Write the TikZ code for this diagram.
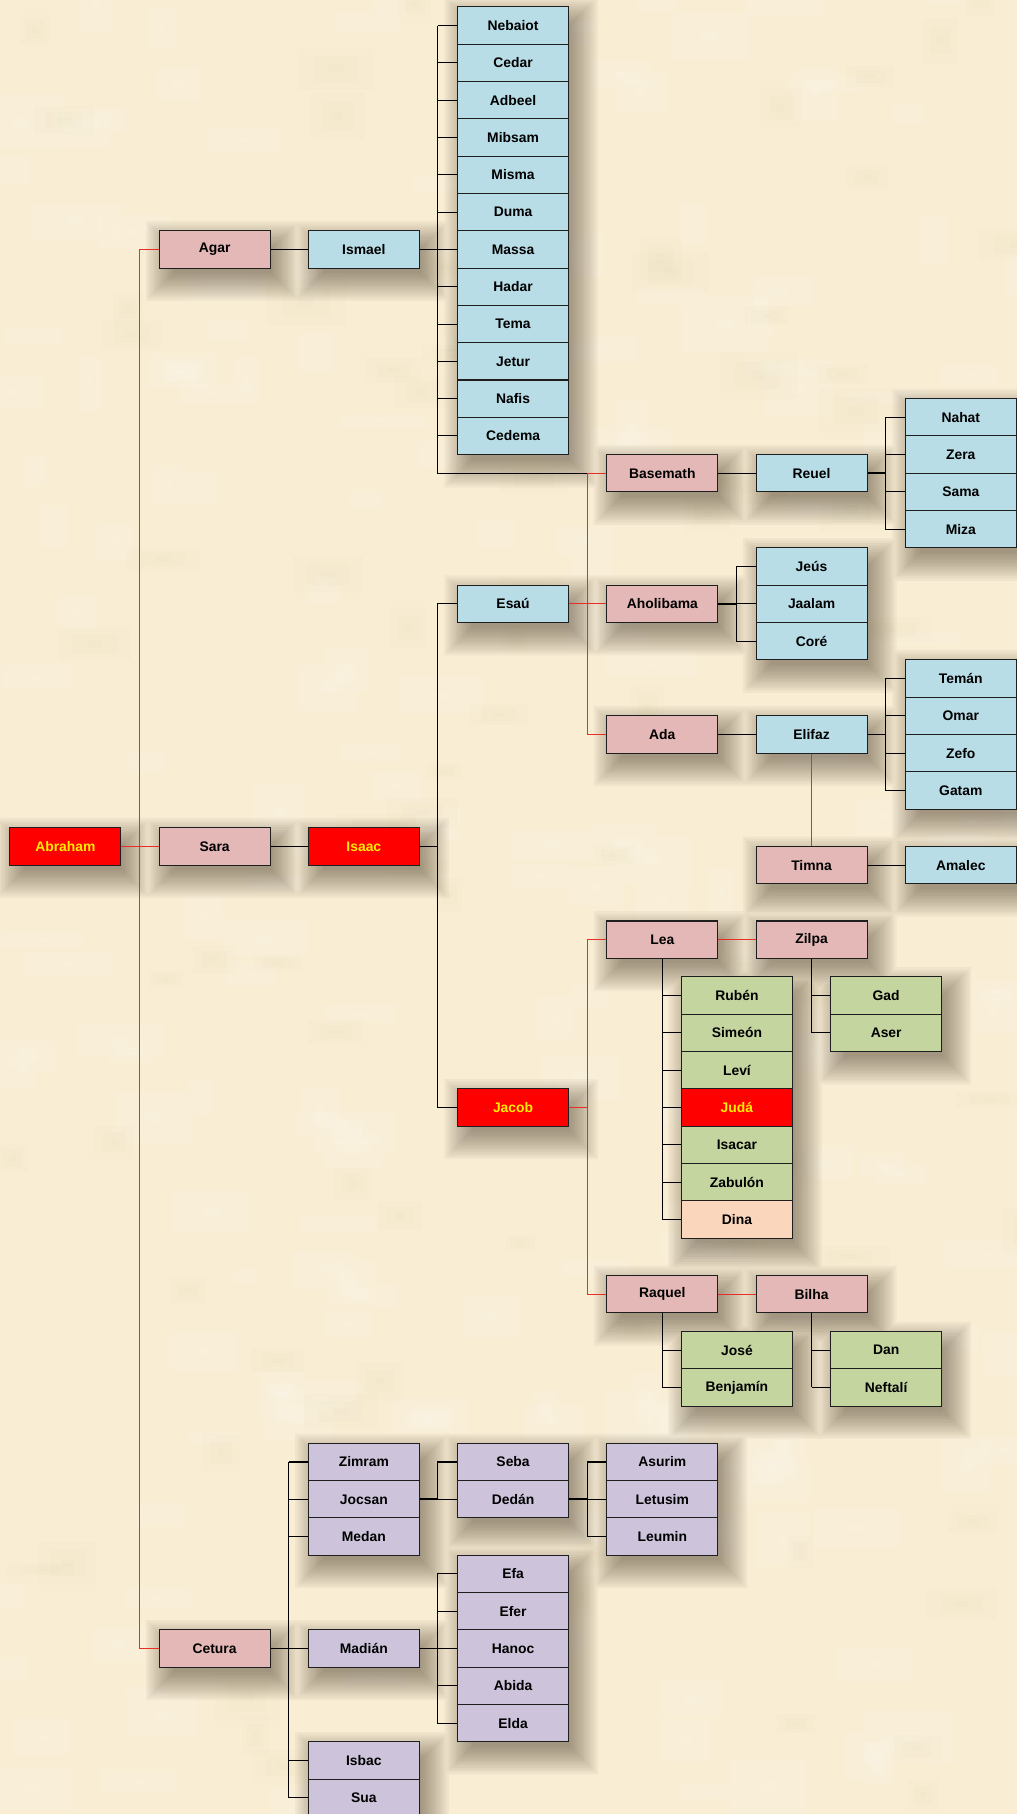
\documentclass[tikz,border=0pt]{standalone}
\usepackage{fontspec}
\setmainfont{Liberation Sans}
\usetikzlibrary{calc}
\definecolor{bgcol}{RGB}{249,237,212}
\definecolor{wife}{RGB}{228,184,182}
\definecolor{blu}{RGB}{184,221,231}
\definecolor{grn}{RGB}{196,213,160}
\definecolor{lav}{RGB}{205,196,220}
\definecolor{peach}{RGB}{250,214,188}
\definecolor{rd}{RGB}{255,0,0}
\definecolor{ylw}{RGB}{255,236,0}
\definecolor{redline}{RGB}{235,45,40}
\definecolor{shcol}{RGB}{62,50,32}
\definecolor{edge}{RGB}{30,30,30}
\definecolor{darkspot}{RGB}{205,185,145}
\pgfdeclarelayer{bg}
\pgfdeclarelayer{shadowlayer}
\pgfsetlayers{bg,shadowlayer,main}
\newcommand{\colx}[1]{56.5+129*(#1)}
\newcommand{\rowy}[1]{22.1+32.25*(#1)}
\newcommand{\famnode}[5]{\node[#1] (#2) at ({\colx{#3}},{\rowy{#4}}) {#5};}
\begin{document}
\begin{tikzpicture}[x=1pt,y=-1pt,
  box/.style={draw=edge, line width=0.9pt, minimum width=96pt, minimum height=32.25pt, inner sep=0pt, font=\bfseries\fontsize{12}{14}\selectfont, text=black},
  wifebox/.style={box, fill=wife},
  bluebox/.style={box, fill=blu},
  grnbox/.style={box, fill=grn},
  lavbox/.style={box, fill=lav},
  peachbox/.style={box, fill=peach},
  redbox/.style={box, fill=rd, text=ylw},
  conn/.style={draw=black, line width=0.9pt},
  thickconn/.style={draw=black, line width=1.6pt},
  redconn/.style={draw=redline, line width=0.9pt}]
\useasboundingbox (0,0) rectangle (879,1568);
\begin{pgfonlayer}{bg}
\fill[bgcol] (0,0) rectangle (879,1568);
\pgfmathsetseed{11}
\foreach \i in {1,...,200}{
  \pgfmathsetmacro\px{rnd*900-20}
  \pgfmathsetmacro\py{rnd*1590-20}
  \pgfmathsetmacro\pw{20+rnd*60}
  \pgfmathsetmacro\ph{12+rnd*36}
  \foreach \f in {0,0.2,0.4}{
    \fill[white,opacity=0.07] ({\px+\f*\pw},{\py+\f*\ph}) rectangle ++({(1-2*\f)*\pw},{(1-2*\f)*\ph});
  }
}
\foreach \i in {1,...,90}{
  \pgfmathsetmacro\px{rnd*900-20}
  \pgfmathsetmacro\py{rnd*1590-20}
  \pgfmathsetmacro\pw{20+rnd*50}
  \pgfmathsetmacro\ph{12+rnd*30}
  \foreach \f in {0,0.2,0.4}{
    \fill[darkspot,opacity=0.03] ({\px+\f*\pw},{\py+\f*\ph}) rectangle ++({(1-2*\f)*\pw},{(1-2*\f)*\ph});
  }
}
\end{pgfonlayer}
\coordinate (b0) at (120.5,0);
\coordinate (b1) at (249.5,0);
\coordinate (b2) at (378.5,0);
\coordinate (b3) at (507.5,0);
\coordinate (b4) at (636.5,0);
\coordinate (b5) at (765.5,0);
% column 0-2
\famnode{redbox}{abraham}{0}{22}{Abraham}
\famnode{wifebox}{agar}{1}{6}{Agar}
\famnode{wifebox}{sara}{1}{22}{Sara}
\famnode{wifebox}{cetura}{1}{43.5}{Cetura}
\famnode{bluebox}{ismael}{2}{6}{Ismael}
\famnode{redbox}{isaac}{2}{22}{Isaac}
\famnode{lavbox}{zimram}{2}{38.5}{Zimram}
\famnode{lavbox}{jocsan}{2}{39.5}{Jocsan}
\famnode{lavbox}{medan}{2}{40.5}{Medan}
\famnode{lavbox}{madian}{2}{43.5}{Madián}
\famnode{lavbox}{isbac}{2}{46.5}{Isbac}
\famnode{lavbox}{sua}{2}{47.5}{Sua}
% column 3
\famnode{bluebox}{nebaiot}{3}{0}{Nebaiot}
\famnode{bluebox}{cedar}{3}{1}{Cedar}
\famnode{bluebox}{adbeel}{3}{2}{Adbeel}
\famnode{bluebox}{mibsam}{3}{3}{Mibsam}
\famnode{bluebox}{misma}{3}{4}{Misma}
\famnode{bluebox}{duma}{3}{5}{Duma}
\famnode{bluebox}{massa}{3}{6}{Massa}
\famnode{bluebox}{hadar}{3}{7}{Hadar}
\famnode{bluebox}{tema}{3}{8}{Tema}
\famnode{bluebox}{jetur}{3}{9}{Jetur}
\famnode{bluebox}{nafis}{3}{10}{Nafis}
\famnode{bluebox}{cedema}{3}{11}{Cedema}
\famnode{bluebox}{esau}{3}{15.5}{Esaú}
\famnode{redbox}{jacob}{3}{29}{Jacob}
\famnode{lavbox}{seba}{3}{38.5}{Seba}
\famnode{lavbox}{dedan}{3}{39.5}{Dedán}
\famnode{lavbox}{efa}{3}{41.5}{Efa}
\famnode{lavbox}{efer}{3}{42.5}{Efer}
\famnode{lavbox}{hanoc}{3}{43.5}{Hanoc}
\famnode{lavbox}{abida}{3}{44.5}{Abida}
\famnode{lavbox}{elda}{3}{45.5}{Elda}
% column 4
\famnode{wifebox}{basemath}{4}{12}{Basemath}
\famnode{wifebox}{aholibama}{4}{15.5}{Aholibama}
\famnode{wifebox}{ada}{4}{19}{Ada}
\famnode{wifebox}{lea}{4}{24.5}{Lea}
\famnode{wifebox}{raquel}{4}{34}{Raquel}
\famnode{lavbox}{asurim}{4}{38.5}{Asurim}
\famnode{lavbox}{letusim}{4}{39.5}{Letusim}
\famnode{lavbox}{leumin}{4}{40.5}{Leumin}
% column 4.5
\famnode{grnbox}{ruben}{4.5}{26}{Rubén}
\famnode{grnbox}{simeon}{4.5}{27}{Simeón}
\famnode{grnbox}{levi}{4.5}{28}{Leví}
\famnode{redbox}{juda}{4.5}{29}{Judá}
\famnode{grnbox}{isacar}{4.5}{30}{Isacar}
\famnode{grnbox}{zabulon}{4.5}{31}{Zabulón}
\famnode{peachbox}{dina}{4.5}{32}{Dina}
\famnode{grnbox}{jose}{4.5}{35.5}{José}
\famnode{grnbox}{benjamin}{4.5}{36.5}{Benjamín}
% column 5
\famnode{bluebox}{reuel}{5}{12}{Reuel}
\famnode{bluebox}{jeus}{5}{14.5}{Jeús}
\famnode{bluebox}{jaalam}{5}{15.5}{Jaalam}
\famnode{bluebox}{core}{5}{16.5}{Coré}
\famnode{bluebox}{elifaz}{5}{19}{Elifaz}
\famnode{wifebox}{timna}{5}{22.5}{Timna}
\famnode{wifebox}{zilpa}{5}{24.5}{Zilpa}
\famnode{wifebox}{bilha}{5}{34}{Bilha}
% column 5.5
\famnode{grnbox}{gad}{5.5}{26}{Gad}
\famnode{grnbox}{aser}{5.5}{27}{Aser}
\famnode{grnbox}{dan}{5.5}{35.5}{Dan}
\famnode{grnbox}{neftali}{5.5}{36.5}{Neftalí}
% column 6
\famnode{bluebox}{nahat}{6}{10.5}{Nahat}
\famnode{bluebox}{zera}{6}{11.5}{Zera}
\famnode{bluebox}{sama}{6}{12.5}{Sama}
\famnode{bluebox}{miza}{6}{13.5}{Miza}
\famnode{bluebox}{teman}{6}{17.5}{Temán}
\famnode{bluebox}{omar}{6}{18.5}{Omar}
\famnode{bluebox}{zefo}{6}{19.5}{Zefo}
\famnode{bluebox}{gatam}{6}{20.5}{Gatam}
\famnode{bluebox}{amalec}{6}{22.5}{Amalec}

\begin{pgfonlayer}{shadowlayer}
% soft shadows: union of shifted, enlarged rectangles per blur level
\foreach \e in {-6,-4,...,18}{
  \fill[shcol,opacity=0.042] \foreach \a/\b in {abraham/abraham,sara/sara,isaac/isaac,agar/agar,ismael/ismael,cetura/cetura,basemath/basemath,reuel/reuel,esau/esau,aholibama/aholibama,ada/ada,elifaz/elifaz,timna/timna,amalec/amalec,jacob/jacob,lea/lea,zilpa/zilpa,raquel/raquel,bilha/bilha,madian/madian,nebaiot/cedema,nahat/miza,jeus/core,teman/gatam,ruben/dina,gad/aser,jose/benjamin,dan/neftali,zimram/medan,isbac/sua,seba/dedan,asurim/leumin,efa/elda}{
    ([xshift={(7-\e)*1pt},yshift={(-10+\e)*1pt}]\a.north west) rectangle ([xshift={(7+\e)*1pt},yshift={(-10-\e)*1pt}]\b.south east)
  };
}
% Abraham's wives (red)
\draw[redconn] (abraham.east) -- (sara.west);
\draw[redconn] (agar.west) -| (b0 |- abraham.east) |- (cetura.west);
% Agar line
\draw[conn] (agar.east) -- (ismael.west);
\draw[thickconn] (ismael.east) -- (ismael.east -| b2);
\draw[conn] (nebaiot.west -| b2) -- (basemath.west -| b2) -- (basemath.west -| b3);
\foreach \n in {nebaiot,cedar,adbeel,mibsam,misma,duma,massa,hadar,tema,jetur,nafis,cedema}{\draw[conn] (\n.west -| b2) -- (\n.west);}
% Sara line
\draw[conn] (sara.east) -- (isaac.west);
\draw[conn] (isaac.east) -- (isaac.east -| b2);
\draw[conn] (esau.west) -| (b2 |- isaac.east) |- (jacob.west);
% Esau's wives
\draw[redconn] (esau.east) -- (aholibama.west);
\draw[redconn] (basemath.west -| b3) -- (ada.west -| b3);
\draw[redconn] (basemath.west -| b3) -- (basemath.west);
\draw[redconn] (ada.west -| b3) -- (ada.west);
\draw[conn] (basemath.east) -- (reuel.west);
\draw[thickconn] (reuel.east) -- (reuel.east -| b5);
\draw[conn] (nahat.west) -| (b5 |- reuel.east) |- (miza.west);
\foreach \n in {zera,sama}{\draw[conn] (\n.west -| b5) -- (\n.west);}
\draw[thickconn] (aholibama.east) -- (aholibama.east -| b4);
\draw[conn] (jeus.west) -| (b4 |- aholibama.east) |- (core.west);
\draw[conn] (jaalam.west -| b4) -- (jaalam.west);
\draw[conn] (ada.east) -- (elifaz.west);
\draw[thickconn] (elifaz.east) -- (elifaz.east -| b5);
\draw[conn] (teman.west) -| (b5 |- elifaz.east) |- (gatam.west);
\foreach \n in {omar,zefo}{\draw[conn] (\n.west -| b5) -- (\n.west);}
\draw[redconn] (elifaz.south) -- (timna.north);
\draw[conn] (timna.east) -- (amalec.west);
% Jacob's wives
\draw[redconn] (jacob.east) -- (jacob.east -| b3);
\draw[redconn] (lea.west) -| (b3 |- jacob.east) |- (raquel.west);
\draw[redconn] (lea.east) -- (zilpa.west);
\draw[redconn] (raquel.east) -- (bilha.west);
\draw[conn] (lea.south) -- (lea.south |- dina.west);
\foreach \n in {ruben,simeon,levi,juda,isacar,zabulon,dina}{\draw[conn] (lea.south |- \n.west) -- (\n.west);}
\draw[conn] (zilpa.south) -- (zilpa.south |- aser.west);
\foreach \n in {gad,aser}{\draw[conn] (zilpa.south |- \n.west) -- (\n.west);}
\draw[conn] (raquel.south) -- (raquel.south |- benjamin.west);
\foreach \n in {jose,benjamin}{\draw[conn] (raquel.south |- \n.west) -- (\n.west);}
\draw[conn] (bilha.south) -- (bilha.south |- neftali.west);
\foreach \n in {dan,neftali}{\draw[conn] (bilha.south |- \n.west) -- (\n.west);}
% Cetura line
\draw[thickconn] (cetura.east) -- (cetura.east -| b1);
\draw[conn] (zimram.west -| b1) -- (sua.west -| b1);
\foreach \n in {zimram,jocsan,medan,madian,isbac,sua}{\draw[conn] (\n.west -| b1) -- (\n.west);}
\draw[thickconn] (jocsan.east) -- (jocsan.east -| b2);
\draw[conn] (seba.west) -| (b2 |- jocsan.east) -- (dedan.west);
\draw[thickconn] (dedan.east) -- (dedan.east -| b3);
\draw[conn] (asurim.west) -| (b3 |- dedan.east) |- (leumin.west);
\draw[conn] (letusim.west -| b3) -- (letusim.west);
\draw[thickconn] (madian.east) -- (madian.east -| b2);
\draw[conn] (efa.west) -| (b2 |- madian.east) |- (elda.west);
\foreach \n in {efer,hanoc,abida}{\draw[conn] (\n.west -| b2) -- (\n.west);}
\end{pgfonlayer}
\end{tikzpicture}
\end{document}
